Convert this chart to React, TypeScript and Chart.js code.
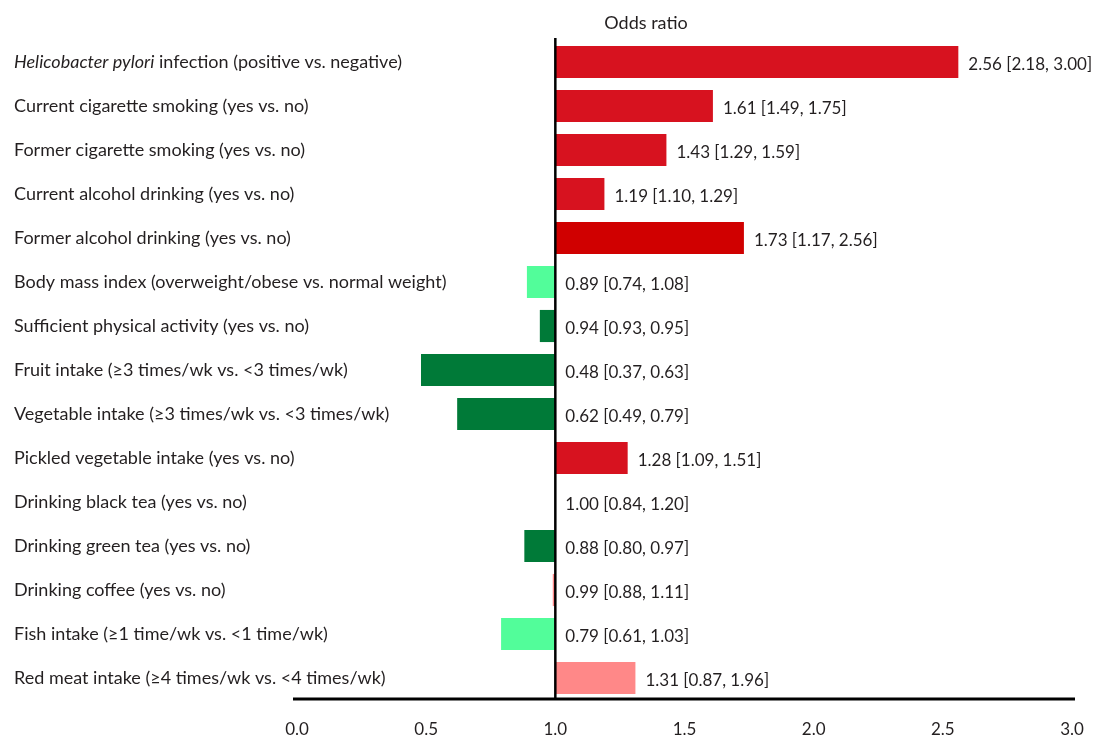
import React, { useEffect, useRef } from "react";
import { Chart, registerables } from "chart.js";

Chart.register(...registerables);

const categories = [
  "Helicobacter pylori infection (positive vs. negative)",
  "Current cigarette smoking (yes vs. no)",
  "Former cigarette smoking (yes vs. no)",
  "Current alcohol drinking (yes vs. no)",
  "Former alcohol drinking (yes vs. no)",
  "Body mass index (overweight/obese vs. normal weight)",
  "Sufficient physical activity (yes vs. no)",
  "Fruit intake (≥3 times/wk vs. <3 times/wk)",
  "Vegetable intake (≥3 times/wk vs. <3 times/wk)",
  "Pickled vegetable intake (yes vs. no)",
  "Drinking black tea (yes vs. no)",
  "Drinking green tea (yes vs. no)",
  "Drinking coffee (yes vs. no)",
  "Fish intake (≥1 time/wk vs. <1 time/wk)",
  "Red meat intake (≥4 times/wk vs. <4 times/wk)",
];
const italicTerms = ["Helicobacter pylori"];

const oddsRatios = [2.56, 1.61, 1.43, 1.19, 1.73, 0.89, 0.94, 0.48, 0.62, 1.28, 1.0, 0.88, 0.99, 0.79, 1.31];
const ciLower = [2.18, 1.49, 1.29, 1.1, 1.17, 0.74, 0.93, 0.37, 0.49, 1.09, 0.84, 0.8, 0.88, 0.61, 0.87];
const ciUpper = [3.0, 1.75, 1.59, 1.29, 2.56, 1.08, 0.95, 0.63, 0.79, 1.51, 1.2, 0.97, 1.11, 1.03, 1.96];
const referenceValue = 1;
const xTicks = [0, 0.5, 1, 1.5, 2, 2.5, 3];
const titleText = "Odds ratio";

const RED = "#d7121f";
const DARK_RED = "#d00000";
const DARK_GREEN = "#007a38";
const LIGHT_GREEN = "#52fd9a";
const PINK = "#ff8888";
const barColors = [RED, RED, RED, RED, DARK_RED, LIGHT_GREEN, DARK_GREEN, DARK_GREEN, DARK_GREEN, RED, PINK, DARK_GREEN, PINK, LIGHT_GREEN, PINK];

const FONT = "Lato";
const TEXT = "#231f20";
const LABEL_SIZE = 18;
const VALUE_SIZE = 17;

export default function App() {
  const ref = useRef<HTMLCanvasElement>(null);

  useEffect(() => {
    if (!ref.current) return;

    const forestPlugin = {
      id: "forestLabels",
      afterDraw(chart: any) {
        const { ctx, chartArea, scales } = chart;
        const xs = scales.x;
        const ys = scales.y;
        ctx.save();
        // reference line
        const x1 = xs.getPixelForValue(referenceValue);
        ctx.strokeStyle = "#000";
        ctx.lineWidth = 2.5;
        ctx.beginPath();
        ctx.moveTo(x1, chartArea.top - 2);
        ctx.lineTo(x1, chartArea.bottom);
        ctx.stroke();
        // axis line
        ctx.lineWidth = 3;
        ctx.beginPath();
        ctx.moveTo(chartArea.left - 4, chartArea.bottom - 1);
        ctx.lineTo(chartArea.right + 3, chartArea.bottom - 1);
        ctx.stroke();

        ctx.fillStyle = TEXT;
        ctx.textBaseline = "middle";
        ctx.textAlign = "left";
        // category labels
        categories.forEach((c, i) => {
          const py = ys.getPixelForValue(i);
          let x = 14;
          const term = italicTerms.find((t) => c.startsWith(t));
          let rest = c;
          if (term) {
            ctx.font = `italic ${LABEL_SIZE}px ${FONT}`;
            ctx.fillText(term, x, py);
            x += ctx.measureText(term).width;
            rest = c.slice(term.length);
          }
          ctx.font = `${LABEL_SIZE}px ${FONT}`;
          ctx.fillText(rest, x, py);
        });
        // value labels
        ctx.font = `${VALUE_SIZE}px ${FONT}`;
        oddsRatios.forEach((v, i) => {
          const py = ys.getPixelForValue(i) + 3;
          const px = xs.getPixelForValue(Math.max(v, referenceValue)) + 10;
          const txt = `${v.toFixed(2)} [${ciLower[i].toFixed(2)}, ${ciUpper[i].toFixed(2)}]`;
          ctx.fillText(txt, px, py);
        });
        // title
        ctx.font = `${LABEL_SIZE}px ${FONT}`;
        ctx.textAlign = "center";
        ctx.fillText(titleText, 646, 23);
        ctx.restore();
      },
    };

    const chart = new Chart(ref.current, {
      type: "bar",
      data: {
        labels: categories,
        datasets: [
          {
            data: oddsRatios.map((v) => [referenceValue, v]) as any,
            backgroundColor: barColors,
            borderWidth: 0,
            borderSkipped: false,
            categoryPercentage: 1,
            barPercentage: 0.73,
          },
        ],
      },
      options: {
        indexAxis: "y",
        animation: false,
        responsive: true,
        maintainAspectRatio: false,
        layout: { padding: { left: 297, right: 22, top: 40, bottom: 0 } },
        plugins: { legend: { display: false }, tooltip: { enabled: false }, title: { display: false } },
        scales: {
          x: {
            type: "linear",
            min: 0,
            max: 3,
            afterBuildTicks: (scale: any) => {
              scale.ticks = xTicks.map((v) => ({ value: v }));
            },
            afterFit: (scale: any) => {
              scale.height = 37;
              scale.paddingLeft = 0;
              scale.paddingRight = 0;
            },
            grid: { display: false, drawTicks: false },
            border: { display: false },
            ticks: {
              padding: 19,
              color: TEXT,
              font: { family: FONT, size: VALUE_SIZE },
              callback: (v: any) => Number(v).toFixed(1),
            },
          },
          y: {
            type: "category",
            display: false,
            offset: true,
            grid: { display: false },
          },
        },
      },
      plugins: [forestPlugin],
    });
    return () => chart.destroy();
  }, []);

  return (
    <div style={{ position: "absolute", left: 0, top: 0, width: 1094, height: 737 }}>
      <canvas ref={ref} />
    </div>
  );
}
